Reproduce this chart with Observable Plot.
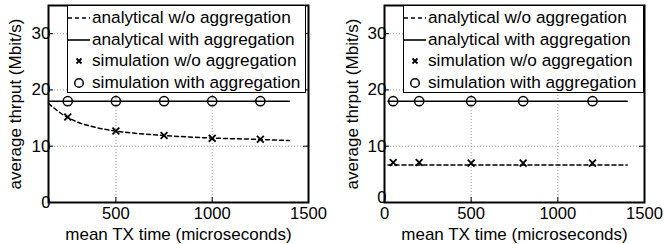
<!DOCTYPE html>
<html>
<head>
<meta charset="utf-8">
<script src="https://cdn.jsdelivr.net/npm/d3@7"></script>
<script src="https://cdn.jsdelivr.net/npm/@observablehq/plot@0.6"></script>
<style>
  html, body { margin: 0; padding: 0; background: white; }
  #wrap { position: relative; width: 665px; height: 244px; font-family: "Liberation Sans", Arial, Helvetica, sans-serif; }
  #wrap > svg { position: absolute; top: 0; }
  .legend { position: absolute; top: 5px; height: 88px; border: 1.3px solid black; background: white; box-sizing: border-box; font-size: 17.2px; color: black; }
  .row { position: absolute; left: 0; height: 21px; line-height: 21px; white-space: nowrap; }
  .row svg { position: absolute; left: 0; top: 0; }
  .row span { position: absolute; left: 24px; top: 0; }
</style>
</head>
<body>
<div id="wrap"></div>
<script>
// ---- data ----
const yTicks = [0, 10, 20, 30];
const leftXTicks = [500, 1000, 1500];
const rightXTicks = [0, 500, 1000, 1500];
const legendLabels = ["analytical w/o aggregation", "analytical with aggregation", "simulation w/o aggregation", "simulation with aggregation"];

// left panel
const leftAnalyticNoAggX = [150, 200, 250, 300, 400, 500, 600, 750, 900, 1000, 1250, 1400];
const leftAnalyticNoAggY = [17.6, 16.2, 15.1, 14.3, 13.3, 12.7, 12.3, 11.9, 11.6, 11.45, 11.2, 11.0];
const leftAnalyticAggX = [150, 1400];
const leftAnalyticAggY = [18, 18];
const leftSimX = [250, 500, 750, 1000, 1250];
const leftSimNoAggY = [15.2, 12.7, 11.9, 11.4, 11.25];
const leftSimAggY = [18, 18, 18, 18, 18];

// right panel
const rightAnalyticNoAggX = [20, 1400];
const rightAnalyticNoAggY = [6.65, 6.65];
const rightAnalyticAggX = [20, 1400];
const rightAnalyticAggY = [18, 18];
const rightSimX = [50, 200, 500, 800, 1200];
const rightSimNoAggY = [7.1, 7.1, 7.0, 7.0, 7.0];
const rightSimAggY = [18, 18, 18, 18, 18];

const zip = (xs, ys) => xs.map((x, i) => ({x, y: ys[i]}));

function panel({width, marginLeft, marginRight, xDomain, xTicks, labelDx, yLabelOffset, zeroDy, aNo, aAgg, sNo, sAgg}) {
  const marginTop = 5, marginBottom = 42, height = 244;
  const pxX = (xDomain[1] - xDomain[0]) / (width - marginLeft - marginRight);
  const pxY = 35 / (height - marginTop - marginBottom);
  const tl = 5; // tick length in px
  const gridX = xTicks.filter(t => t > xDomain[0] && t < xDomain[1]);
  const gridY = yTicks.filter(t => t > 0 && t < 35);
  const fmt = d => String(d);
  return Plot.plot({
    width, height, marginLeft, marginRight, marginTop, marginBottom,
    x: {domain: xDomain},
    y: {domain: [0, 35]},
    style: {fontFamily: '"Liberation Sans", Arial, Helvetica, sans-serif', fontSize: "16.6px", background: "white", color: "black", overflow: "visible"},
    marks: [
      Plot.ruleX(gridX, {stroke: "#999", strokeDasharray: "1,2", strokeWidth: 1}),
      Plot.ruleY(gridY, {stroke: "#999", strokeDasharray: "1,2", strokeWidth: 1}),
      Plot.ruleX(gridX, {y1: 0, y2: tl * pxY, stroke: "black", strokeWidth: 1}),
      Plot.ruleX(gridX, {y1: 35 - tl * pxY, y2: 35, stroke: "black", strokeWidth: 1}),
      Plot.ruleY(gridY, {x1: xDomain[0], x2: xDomain[0] + tl * pxX, stroke: "black", strokeWidth: 1}),
      Plot.ruleY(gridY, {x1: xDomain[1] - tl * pxX, x2: xDomain[1], stroke: "black", strokeWidth: 1}),
      Plot.line(aNo, {x: "x", y: "y", stroke: "black", strokeWidth: 1.5, strokeDasharray: "4,3", curve: "monotone-x"}),
      Plot.line(aAgg, {x: "x", y: "y", stroke: "black", strokeWidth: 1.6}),
      Plot.dot(sNo, {x: "x", y: "y", symbol: "times", r: 3.2, stroke: "black", strokeWidth: 1.8}),
      Plot.dot(sAgg, {x: "x", y: "y", r: 4.6, stroke: "black", strokeWidth: 1.5, fill: "none"}),
      Plot.frame({stroke: "black", strokeWidth: 2}),
      Plot.axisX({ticks: xTicks, tickSize: 0, tickPadding: 5, tickFormat: fmt, label: null}),
      Plot.axisX({ticks: [], tickSize: 0, label: "mean TX time (microseconds)", labelAnchor: "center", labelArrow: "none", labelOffset: 37, dx: labelDx, fontSize: 17}),
      Plot.axisY({ticks: yTicks.filter(t => t > 0), tickSize: 0, tickPadding: -2, tickFormat: fmt, label: "average thrput (Mbit/s)", labelAnchor: "center", labelArrow: "none", labelOffset: yLabelOffset, fontSize: 17}),
      Plot.axisY({ticks: [0], tickSize: 0, tickPadding: -2, tickFormat: fmt, label: null, dy: zeroDy})
    ]
  });
}

const wrap = document.getElementById("wrap");

const left = panel({
  width: 330, marginLeft: 48, marginRight: 22, xDomain: [150, 1500], xTicks: leftXTicks, labelDx: 0, yLabelOffset: 40, zeroDy: 0,
  aNo: zip(leftAnalyticNoAggX, leftAnalyticNoAggY),
  aAgg: zip(leftAnalyticAggX, leftAnalyticAggY),
  sNo: zip(leftSimX, leftSimNoAggY),
  sAgg: zip(leftSimX, leftSimAggY)
});
left.style.left = "0px";
wrap.appendChild(left);

const right = panel({
  width: 335, marginLeft: 54, marginRight: 21, xDomain: [0, 1500], xTicks: rightXTicks, labelDx: 4, yLabelOffset: 39, zeroDy: -5,
  aNo: zip(rightAnalyticNoAggX, rightAnalyticNoAggY),
  aAgg: zip(rightAnalyticAggX, rightAnalyticAggY),
  sNo: zip(rightSimX, rightSimNoAggY),
  sAgg: zip(rightSimX, rightSimAggY)
});
right.style.left = "330px";
wrap.appendChild(right);

function legend(leftPx, widthPx) {
  const box = document.createElement("div");
  box.className = "legend";
  box.style.left = leftPx + "px";
  box.style.width = widthPx + "px";
  const swatches = [
    '<line x1="0" y1="11" x2="22" y2="11" stroke="black" stroke-width="1.5" stroke-dasharray="4,3"/>',
    '<line x1="0" y1="11" x2="22" y2="11" stroke="black" stroke-width="1.6"/>',
    '<path d="M8.5,8.5L13.5,13.5M13.5,8.5L8.5,13.5" stroke="black" stroke-width="1.8"/>',
    '<circle cx="11" cy="11" r="4.3" stroke="black" stroke-width="1.5" fill="none"/>'
  ];
  legendLabels.forEach((lab, i) => {
    const row = document.createElement("div");
    row.className = "row";
    row.style.top = (1 + i * 21.5) + "px";
    row.innerHTML = `<svg width="22" height="22">${swatches[i]}</svg><span>${lab}</span>`;
    box.appendChild(row);
  });
  wrap.appendChild(box);
}
legend(67, 239);
legend(403, 241);
</script>
</body>
</html>
